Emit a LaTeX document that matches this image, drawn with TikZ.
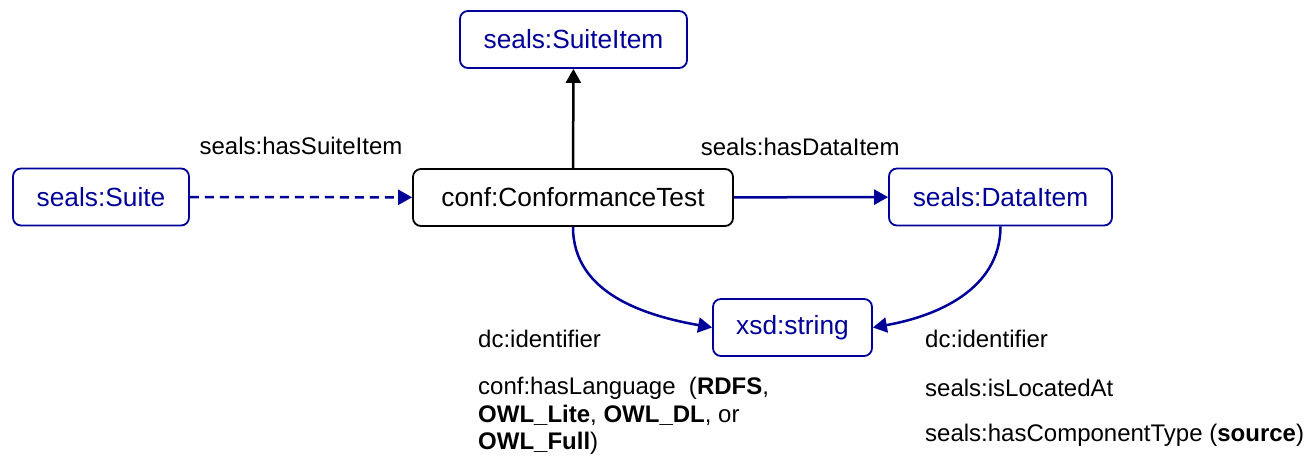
\documentclass[tikz,border=0pt]{standalone}
\usepackage{fontspec}
\setmainfont{Liberation Sans}
\usepackage{tikz}
\usetikzlibrary{arrows.meta}
\definecolor{sealsblue}{RGB}{0,0,153}

\begin{document}
\begin{tikzpicture}[
    x=1pt, y=1pt,
    class/.style={draw, line width=1.8pt, rounded corners=8pt, minimum height=57pt, inner sep=0pt, font=\fontsize{26.3}{31}\selectfont},
    sealsclass/.style={class, draw=sealsblue, text=sealsblue},
    prop/.style={inner sep=0pt, text=black, font=\fontsize{24}{27.7}\selectfont},
    rel/.style={line width=2.5pt, -{Triangle[length=14pt,width=15pt]}}
]
\useasboundingbox (0,0) rectangle (1309,-457);

\node[sealsclass, minimum width=176pt] (suite)     at (101,-197)    {seals:Suite};
\node[class,      minimum width=320pt] (test)      at (573,-197.5)  {conf:ConformanceTest};
\node[sealsclass, minimum width=227pt] (suiteitem) at (573.5,-39.5) {seals:SuiteItem};
\node[sealsclass, minimum width=223pt] (dataitem)  at (1000.5,-197) {seals:DataItem};
\node[sealsclass, minimum width=159pt] (string)    at (792.5,-327.5) {xsd:string};

\draw[rel, sealsblue, dash pattern=on 9pt off 6pt] (suite) -- (test)
    node[prop, midway, anchor=base, yshift=43pt] {seals:hasSuiteItem};
\draw[rel] (test) -- (suiteitem);
\draw[rel, sealsblue] (test) -- (dataitem)
    node[prop, pos=0.43, anchor=base, yshift=42pt] {seals:hasDataItem};
\draw[rel, sealsblue] (test.south) to[out=-90, in=170] (string.west);
\draw[rel, sealsblue] (dataitem.south) to[out=-90, in=10] (string.east);

\node[prop, anchor=base west] (testid) at (478,-347) {dc:identifier};
\node[prop, anchor=north west, align=left] (testlang) at (478,-377)
    {conf:hasLanguage~~(\textbf{RDFS},\\ \textbf{OWL\_Lite}, \textbf{OWL\_DL}, or\\ \textbf{OWL\_Full})};

\node[prop, anchor=base west] (dataid)   at (925,-347) {dc:identifier};
\node[prop, anchor=base west] (dataloc)  at (925,-396) {seals:isLocatedAt};
\node[prop, anchor=base west] (datatype) at (925,-441) {seals:hasComponentType (\textbf{source})};
\end{tikzpicture}
\end{document}
